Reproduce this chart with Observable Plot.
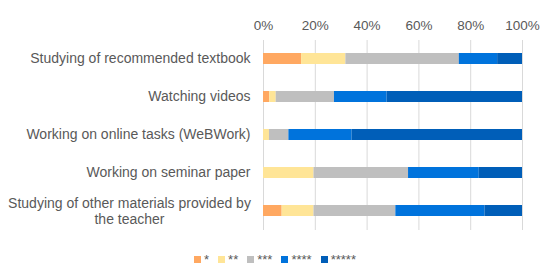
<!DOCTYPE html>
<html>
<head>
<meta charset="utf-8">
<script src="https://cdn.jsdelivr.net/npm/d3@7"></script>
<script src="https://cdn.jsdelivr.net/npm/@observablehq/plot@0.6"></script>
<style>
  html, body { margin: 0; padding: 0; background: #fff; }
  body { width: 550px; height: 272px; overflow: hidden; font-family: "Liberation Sans", Arial, sans-serif; }
  #legend { display: flex; justify-content: center; align-items: center; gap: 9px; height: 26px; padding-top: 6px; font-size: 13px; color: #595959; }
  #legend .item { display: flex; align-items: center; gap: 3px; }
  #legend .sw { width: 7px; height: 7px; display: inline-block; }
</style>
</head>
<body>
<div id="chart"></div>
<div id="legend"></div>
<script>
// Categories (top to bottom)
const categories = [
  "Studying of recommended textbook",
  "Watching videos",
  "Working on online tasks (WeBWork)",
  "Working on seminar paper",
  "Studying of other materials provided by\nthe teacher"
];
// Rating series
const ratings = ["*", "**", "***", "****", "*****"];
// Percentages per rating, in the order of categories
const oneStar   = [14.7, 2.4, 0.0, 0.0, 7.2];
const twoStar   = [17.1, 2.5, 2.3, 19.5, 12.3];
const threeStar = [43.8, 22.5, 7.5, 36.5, 31.6];
const fourStar  = [14.8, 20.3, 24.4, 27.3, 34.4];
const fiveStar  = [9.6, 52.3, 65.8, 16.7, 14.5];
const xTicks = [0, 20, 40, 60, 80, 100];
const colors = ["#FFA861", "#FFE597", "#BFBFBF", "#0073DC", "#005EB8"];

const series = [oneStar, twoStar, threeStar, fourStar, fiveStar];
const rows = categories.flatMap((c, i) =>
  ratings.map((r, j) => ({category: c, rating: r, value: series[j][i]}))
);
const singleLine = categories.filter(c => !c.includes("\n"));
const multiLine = categories.filter(c => c.includes("\n"));

const chart = Plot.plot({
  width: 550,
  height: 240,
  marginLeft: 263,
  marginRight: 28,
  marginTop: 40,
  marginBottom: 10,
  style: {fontFamily: '"Liberation Sans", Arial, sans-serif', color: "#595959", background: "#fff"},
  x: {domain: [0, 100], label: null},
  y: {domain: categories, paddingInner: 0.7, paddingOuter: 0.35, axis: null, label: null},
  color: {domain: ratings, range: colors},
  marks: [
    Plot.gridX(xTicks, {stroke: "#D9D9D9", strokeOpacity: 1, strokeWidth: 1}),
    Plot.barX(rows, Plot.stackX({x: "value", y: "category", fill: "rating", order: ratings})),
    Plot.axisX(xTicks, {anchor: "top", label: null, tickSize: 0, tickPadding: 11, tickFormat: d => d + "%", fontSize: 13.5, fill: "#595959"}),
    Plot.text(singleLine, {y: d => d, text: d => d, frameAnchor: "left", textAnchor: "end", dx: -13, fontSize: 14, fill: "#595959"}),
    Plot.text(multiLine, {y: d => d, text: d => d, frameAnchor: "left", textAnchor: "middle", dx: -134, fontSize: 14, lineHeight: 1.12, fill: "#595959"})
  ]
});
document.getElementById("chart").append(chart);

const legend = document.getElementById("legend");
ratings.forEach((r, i) => {
  const item = document.createElement("div");
  item.className = "item";
  const sw = document.createElement("span");
  sw.className = "sw";
  sw.style.background = colors[i];
  const lab = document.createElement("span");
  lab.textContent = r;
  item.append(sw, lab);
  legend.append(item);
});
</script>
</body>
</html>
